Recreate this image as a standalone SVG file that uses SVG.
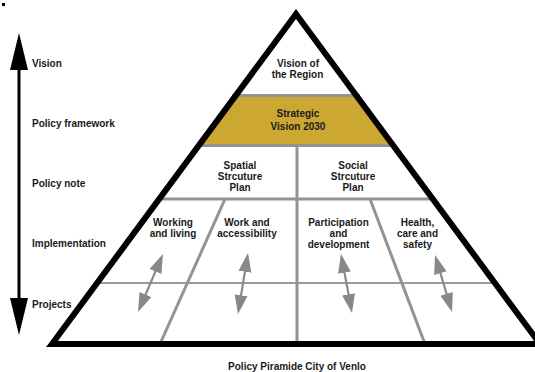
<svg xmlns="http://www.w3.org/2000/svg" width="535" height="372" viewBox="0 0 535 372">
<style>
  text { font-family: "Liberation Sans", Arial, sans-serif; font-weight: bold; font-size: 10px; fill: #1a1a1a; }
  .c { text-anchor: middle; }
  .g { stroke: #939393; stroke-width: 3; fill: none; }
  .gt { stroke: #9a9a9a; stroke-width: 2; fill: none; }
  .ga { stroke: #888888; stroke-width: 2.2; fill: none; marker-start: url(#gh); marker-end: url(#gh); }
</style>
<defs>
  <marker id="gh" markerUnits="userSpaceOnUse" markerWidth="22" markerHeight="16" viewBox="0 -8 22 16" refX="14" refY="0" orient="auto-start-reverse">
    <path d="M0,-6.5 L19,0 L0,6.5 z" fill="#888888"/>
  </marker>
  <marker id="bh" markerUnits="userSpaceOnUse" markerWidth="40" markerHeight="20" viewBox="0 -10 40 20" refX="30" refY="0" orient="auto-start-reverse">
    <path d="M0,-9 L37,0 L0,9 z" fill="#000"/>
  </marker>
</defs>
<rect x="2" y="3" width="3" height="3" fill="#000"/>
<g id="axis">
  <line x1="19" y1="40" x2="19" y2="328" stroke="#000" stroke-width="3" marker-start="url(#bh)" marker-end="url(#bh)"/>
  <text x="32" y="66.5">Vision</text>
  <text x="32" y="126.5">Policy framework</text>
  <text x="32" y="186.5">Policy note</text>
  <text x="32" y="246.5">Implementation</text>
  <text x="32" y="307.5">Projects</text>
</g>
<g id="strategic">
  <polygon points="232,96 360,96 396,146 196,146" fill="#CCA833"/>
  <text class="c" x="298" y="117">Strategic</text>
  <text class="c" x="298" y="129.5">Vision 2030</text>
</g>
<g id="connectors">
  <line class="g" x1="232" y1="95.5" x2="360" y2="95.5"/>
  <line class="g" x1="196" y1="145.5" x2="396" y2="145.5"/>
  <line class="g" x1="157" y1="199" x2="435" y2="199"/>
  <line class="gt" x1="94" y1="283" x2="498" y2="283"/>
  <line class="g" x1="297" y1="145" x2="297" y2="344"/>
  <line class="g" x1="225" y1="199" x2="160" y2="344"/>
  <line class="g" x1="370" y1="199" x2="425" y2="344"/>
  <line class="ga" x1="161" y1="258.6" x2="140" y2="307.4"/>
  <line class="ga" x1="247.2" y1="257.9" x2="238.8" y2="309.1"/>
  <line class="ga" x1="341.9" y1="258.9" x2="351.1" y2="308.1"/>
  <line class="ga" x1="436.4" y1="259.8" x2="450.6" y2="307.2"/>
</g>
<g id="region">
  <text class="c" x="298" y="66.5">Vision of</text>
  <text class="c" x="297.5" y="78">the Region</text>
</g>
<g id="spatial">
  <text class="c" x="240" y="168.5">Spatial</text>
  <text class="c" x="240" y="179.5">Strcuture</text>
  <text class="c" x="240" y="191">Plan</text>
</g>
<g id="social">
  <text class="c" x="353" y="168.5">Social</text>
  <text class="c" x="353" y="179.5">Strcuture</text>
  <text class="c" x="353" y="191">Plan</text>
</g>
<g id="working">
  <text class="c" x="173" y="225.5">Working</text>
  <text class="c" x="173" y="236.5">and living</text>
</g>
<g id="work">
  <text class="c" x="247" y="225.5">Work and</text>
  <text class="c" x="247" y="236.5">accessibility</text>
</g>
<g id="participation">
  <text class="c" x="338.5" y="225.5">Participation</text>
  <text class="c" x="338.5" y="236.5">and</text>
  <text class="c" x="338.5" y="248">development</text>
</g>
<g id="health">
  <text class="c" x="417.5" y="225.5">Health,</text>
  <text class="c" x="417.5" y="236.5">care and</text>
  <text class="c" x="417.5" y="248">safety</text>
</g>
<g id="pyramid">
  <polygon points="52,344 296,14 540,344" fill="none" stroke="#000" stroke-width="6" stroke-linejoin="miter" stroke-miterlimit="10"/>
</g>
<text class="c" x="297" y="369.5">Policy Piramide City of Venlo</text>
</svg>
